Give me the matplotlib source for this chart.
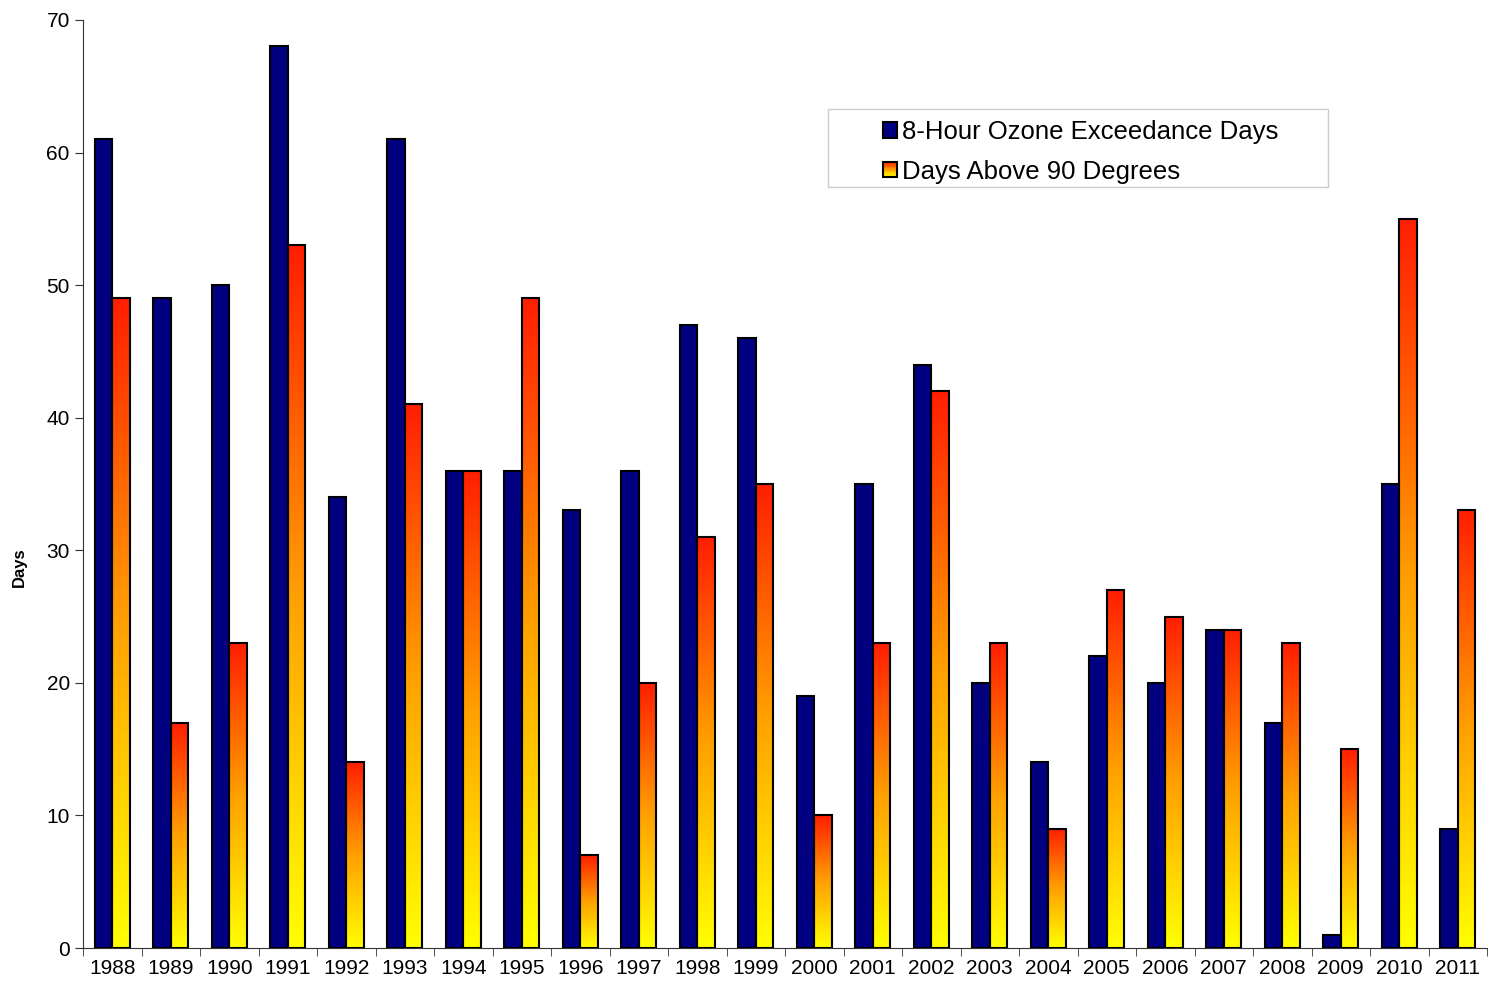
import numpy as np
import matplotlib
matplotlib.use("Agg")
import matplotlib.pyplot as plt
from matplotlib.colors import LinearSegmentedColormap
from matplotlib.patches import Rectangle
from matplotlib.legend_handler import HandlerBase
from matplotlib.ticker import FixedLocator

plt.rcParams['font.family'] = ['Liberation Sans', 'DejaVu Sans']

years = [str(y) for y in range(1988, 2012)]
ozone_days = [61, 49, 50, 68, 34, 61, 36, 36, 33, 36, 47, 46, 19, 35, 44, 20, 14, 22, 20, 24, 17, 1, 35, 9]
hot_days = [49, 17, 23, 53, 14, 41, 36, 49, 7, 20, 31, 35, 10, 23, 42, 23, 9, 27, 25, 24, 23, 15, 55, 33]

navy = '#000080'
heat = LinearSegmentedColormap.from_list('heat', ['#FFFF00', '#FFA000', '#FF1E00'])

fig = plt.figure(figsize=(14.99, 9.83), dpi=100)
ax = fig.add_axes([0.0554, 0.0356, 0.9366, 0.9441])

x = np.arange(len(years))
w = 0.3
ax.bar(x - w / 2, ozone_days, w, color=navy, edgecolor='black', linewidth=1.5, zorder=3)
bars = ax.bar(x + w / 2, hot_days, w, color='none', edgecolor='black', linewidth=1.5, zorder=3)

# vertical gradient inside each bar, yellow at the bottom, red at the top
grad = np.linspace(0, 1, 256).reshape(-1, 1)
for b in bars:
    x0, y0 = b.get_x(), b.get_y()
    im = ax.imshow(grad, cmap=heat, origin='lower', aspect='auto',
                   extent=[x0, x0 + b.get_width(), y0, y0 + b.get_height()], zorder=2)
    im.set_clip_path(b)

ax.set_xlim(-0.5, len(years) - 0.5)
ax.set_ylim(0, 70)
ax.set_yticks(range(0, 71, 10))
ax.set_xticks(x)
ax.set_xticklabels(years)
ax.xaxis.set_minor_locator(FixedLocator(np.arange(-0.5, len(years), 1)))
ax.tick_params(axis='x', which='major', length=0, labelsize=15, pad=8)
ax.tick_params(axis='x', which='minor', length=6, direction='out', color='#333333')
ax.tick_params(axis='y', length=6, direction='out', labelsize=15, color='#333333')
for s in ['top', 'right']:
    ax.spines[s].set_visible(False)
for s in ['left', 'bottom']:
    ax.spines[s].set_color('#333333')
ax.set_ylabel('Days', fontsize=12, fontweight='bold')
ax.yaxis.set_label_coords(-0.04, 0.41)


class GradientHandler(HandlerBase):
    def create_artists(self, legend, orig, xd, yd, width, height, fontsize, trans):
        arts = []
        n = 12
        for i in range(n):
            arts.append(Rectangle((-xd, -yd + height * i / n), width, height / n,
                                  facecolor=heat(i / (n - 1)), edgecolor='none', transform=trans))
        arts.append(Rectangle((-xd, -yd), width, height, facecolor='none',
                              edgecolor='black', linewidth=1.5, transform=trans))
        return arts


h1 = Rectangle((0, 0), 1, 1, facecolor=navy, edgecolor='black', linewidth=1.5)
h2 = Rectangle((0, 0), 1, 1, facecolor='orange')

frame = Rectangle((0.5306, 0.8200), 0.356, 0.0840, transform=ax.transAxes,
                  facecolor='white', edgecolor='#cccccc', linewidth=1, zorder=4)
ax.add_patch(frame)
leg = ax.legend([h1, h2], ['8-Hour Ozone Exceedance Days', 'Days Above 90 Degrees'],
                handler_map={h2: GradientHandler()},
                loc='upper left', bbox_to_anchor=(0.5698, 0.892), frameon=False,
                fontsize=18.5, handlelength=0.55, handleheight=0.55, handletextpad=0.2,
                labelspacing=0.6, borderaxespad=0, borderpad=0)
leg.set_zorder(5)

fig.savefig('out.png', dpi=100)
